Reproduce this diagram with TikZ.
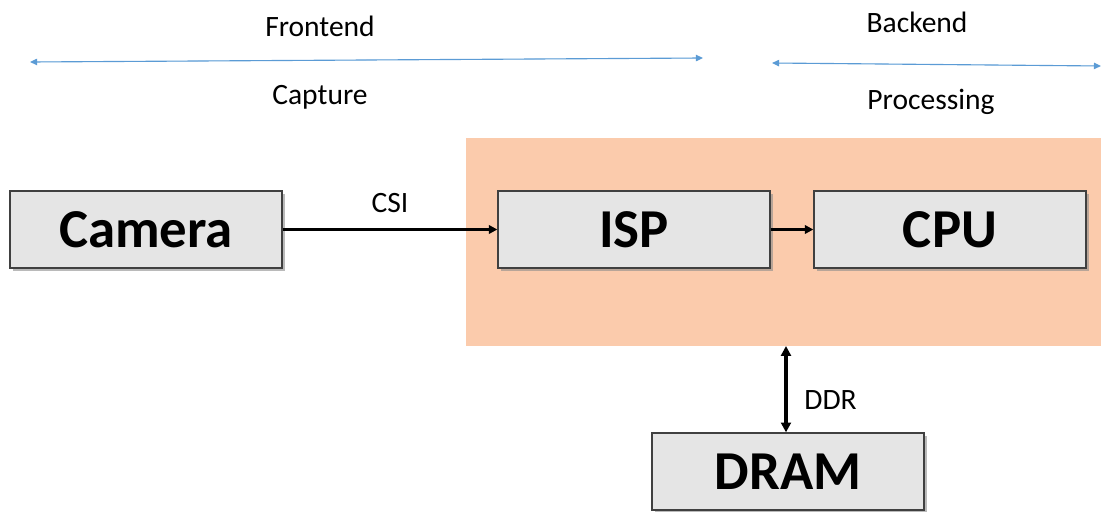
\documentclass[tikz,border=0pt]{standalone}
\usepackage{fontspec}
\setmainfont{Carlito}
\usetikzlibrary{arrows.meta,shadows}
\definecolor{spanblue}{RGB}{91,155,213}
\definecolor{socpeach}{RGB}{251,203,172}
\begin{document}
\begin{tikzpicture}[x=0.025cm,y=-0.025cm,
    block/.style={draw=black!75, line width=0.9pt, fill=black!10,
        minimum width=6.8cm, minimum height=1.925cm, inner sep=0pt,
        font=\fontsize{39}{39}\selectfont\bfseries,
        drop shadow={shadow xshift=2pt, shadow yshift=-2pt, fill=black!45, opacity=0.6}},
    lbl/.style={font=\fontsize{21}{21}\selectfont, inner sep=0pt},
    span/.style={draw=spanblue, fill=spanblue, line width=0.8pt, {Triangle[length=5pt,width=4.5pt]}-{Triangle[length=5pt,width=4.5pt]}},
    link/.style={draw=black, line width=1.6pt, -{Triangle[length=6pt,width=6pt]}}
]
\useasboundingbox (0,0) rectangle (1101,512);
\clip (0,0) rectangle (1101,512);
% stages
\node[lbl] (frontend) at (320,26) {Frontend};
\node[lbl] (capture) at (320,97) {Capture};
\node[lbl] (backend) at (917,22) {Backend};
\node[lbl] (processing) at (931,102) {Processing};
\coordinate (fl) at (30,62);
\coordinate (fr) at (703,58);
\coordinate (bl) at (772,63);
\coordinate (br) at (1101,66);
\draw[span] (fl) -- (fr);
\draw[span] (bl) -- (br);
% soc area
\fill[socpeach] (466,138) rectangle (1101,346);
\node[block] (camera) at (146,229.5) {Camera};
\node[block] (isp) at (634,229.5) {ISP};
\node[block] (cpu) at (950,229.5) {CPU};
\node[block] (dram) at (788,471.5) {DRAM};
\coordinate (soc) at (786,346);
\draw[link] (camera) -- node[lbl, above=11pt] (csi) {CSI} (isp);
\draw[link] (isp) -- (cpu);
\draw[link, line width=2.2pt, {Triangle[length=7pt,width=7pt]}-{Triangle[length=7pt,width=7pt]}] (soc) -- node[lbl, pos=0.62, right=12pt] (ddr) {DDR} (soc |- dram.north);
\end{tikzpicture}
\end{document}
